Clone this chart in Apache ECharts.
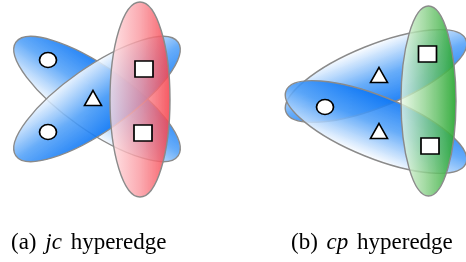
<!DOCTYPE html>
<html>
<head>
<meta charset="utf-8">
<script src="https://cdn.jsdelivr.net/npm/echarts@6/dist/echarts.min.js"></script>
<style>html,body{margin:0;background:#fff}#main{width:466px;height:262px}</style>
</head>
<body>
<div id="main"></div>
<script>
var chartDom = document.getElementById('main');
var myChart = echarts.init(chartDom);

// hyperedges (ellipses) : centre, half axes, tilt in degrees
var edgeCx = [97, 97, 140, 376, 376, 428.5];
var edgeCy = [99, 99, 99.5, 76, 127, 101];
var edgeRx = [99, 99, 30, 97, 97, 27.5];
var edgeRy = [32, 32, 97.5, 31, 31, 95];
var edgeTilt = [-35, 35, 0, 22, -22, 0];
var edgeKind = ['blue', 'blue', 'red', 'blue', 'blue', 'green'];

// vertices
var nodeX = [48, 48, 93, 144, 143, 325, 379, 379, 427.5, 430];
var nodeY = [60, 132, 98, 69, 133, 107, 75, 131, 54, 146];
var nodeShape = ['circle', 'circle', 'triangle', 'rect', 'rect', 'circle', 'triangle', 'triangle', 'rect', 'rect'];

// captions
var capTag = ['(a)', '(b)'];
var capVar = ['jc', 'cp'];
var capWord = ['hyperedge', 'hyperedge'];

var symSize = { circle: [17, 15], triangle: [17, 15], rect: [18, 16] };
var capLeft = [11, 291];

function fillFor(kind, tilt) {
    if (kind === 'blue') {
        // dark on the side facing the other blue edge
        var stops = [
            { offset: 0, color: 'rgba(255,255,255,0.85)' },
            { offset: 0.55, color: 'rgba(80,160,248,0.87)' },
            { offset: 1, color: 'rgba(12,118,245,0.9)' }
        ];
        return tilt > 0 ? new echarts.graphic.LinearGradient(0, 0, 0, 1, stops)
                        : new echarts.graphic.LinearGradient(0, 1, 0, 0, stops);
    }
    if (kind === 'red') {
        return new echarts.graphic.LinearGradient(0, 0, 1, 0, [
            { offset: 0, color: 'rgba(255,225,228,0.8)' },
            { offset: 0.5, color: 'rgba(250,150,158,0.8)' },
            { offset: 1, color: 'rgba(245,65,75,0.88)' }
        ]);
    }
    return new echarts.graphic.LinearGradient(0, 0, 1, 0, [
        { offset: 0, color: 'rgba(235,250,232,0.8)' },
        { offset: 0.5, color: 'rgba(130,205,130,0.82)' },
        { offset: 1, color: 'rgba(35,165,45,0.92)' }
    ]);
}

var option = {
    animation: false,
    grid: { left: 0, right: 0, top: 0, bottom: 0 },
    xAxis: { type: 'value', min: 0, max: 466, show: false },
    yAxis: { type: 'value', min: 0, max: 262, inverse: true, show: false },
    series: [
        {
            type: 'custom',
            z: 1,
            data: edgeCx.map((x, i) => [x, edgeCy[i], edgeRx[i], edgeRy[i], edgeTilt[i]]),
            renderItem: function (params, api) {
                var c = api.coord([api.value(0), api.value(1)]);
                var s = api.size([api.value(2), api.value(3)]);
                var tilt = api.value(4);
                return {
                    type: 'ellipse',
                    x: c[0],
                    y: c[1],
                    rotation: tilt * Math.PI / 180,
                    shape: { cx: 0, cy: 0, rx: s[0], ry: s[1] },
                    style: {
                        fill: fillFor(edgeKind[params.dataIndex], tilt),
                        stroke: '#8a8a8a',
                        lineWidth: 1.4
                    }
                };
            }
        },
        {
            type: 'scatter',
            z: 5,
            data: nodeX.map((x, i) => ({
                value: [x, nodeY[i]],
                symbol: nodeShape[i],
                symbolSize: symSize[nodeShape[i]]
            })),
            itemStyle: { color: '#fff', borderColor: '#000', borderWidth: 1.6, opacity: 1 }
        }
    ],
    graphic: capTag.map((t, i) => ({
        type: 'text',
        left: capLeft[i],
        top: 231,
        style: {
            text: '{n|' + t + '} {m|' + capVar[i] + '} {n|' + capWord[i] + '}',
            font: '23px "Liberation Serif"',
            fill: '#000',
            rich: {
                n: { fontFamily: 'Liberation Serif', fontSize: 23, fill: '#000' },
                m: { fontFamily: 'Liberation Serif', fontStyle: 'italic', fontSize: 23, fill: '#000', padding: [0, 3, 0, 3] }
            }
        }
    }))
};

option && myChart.setOption(option);
</script>
</body>
</html>
